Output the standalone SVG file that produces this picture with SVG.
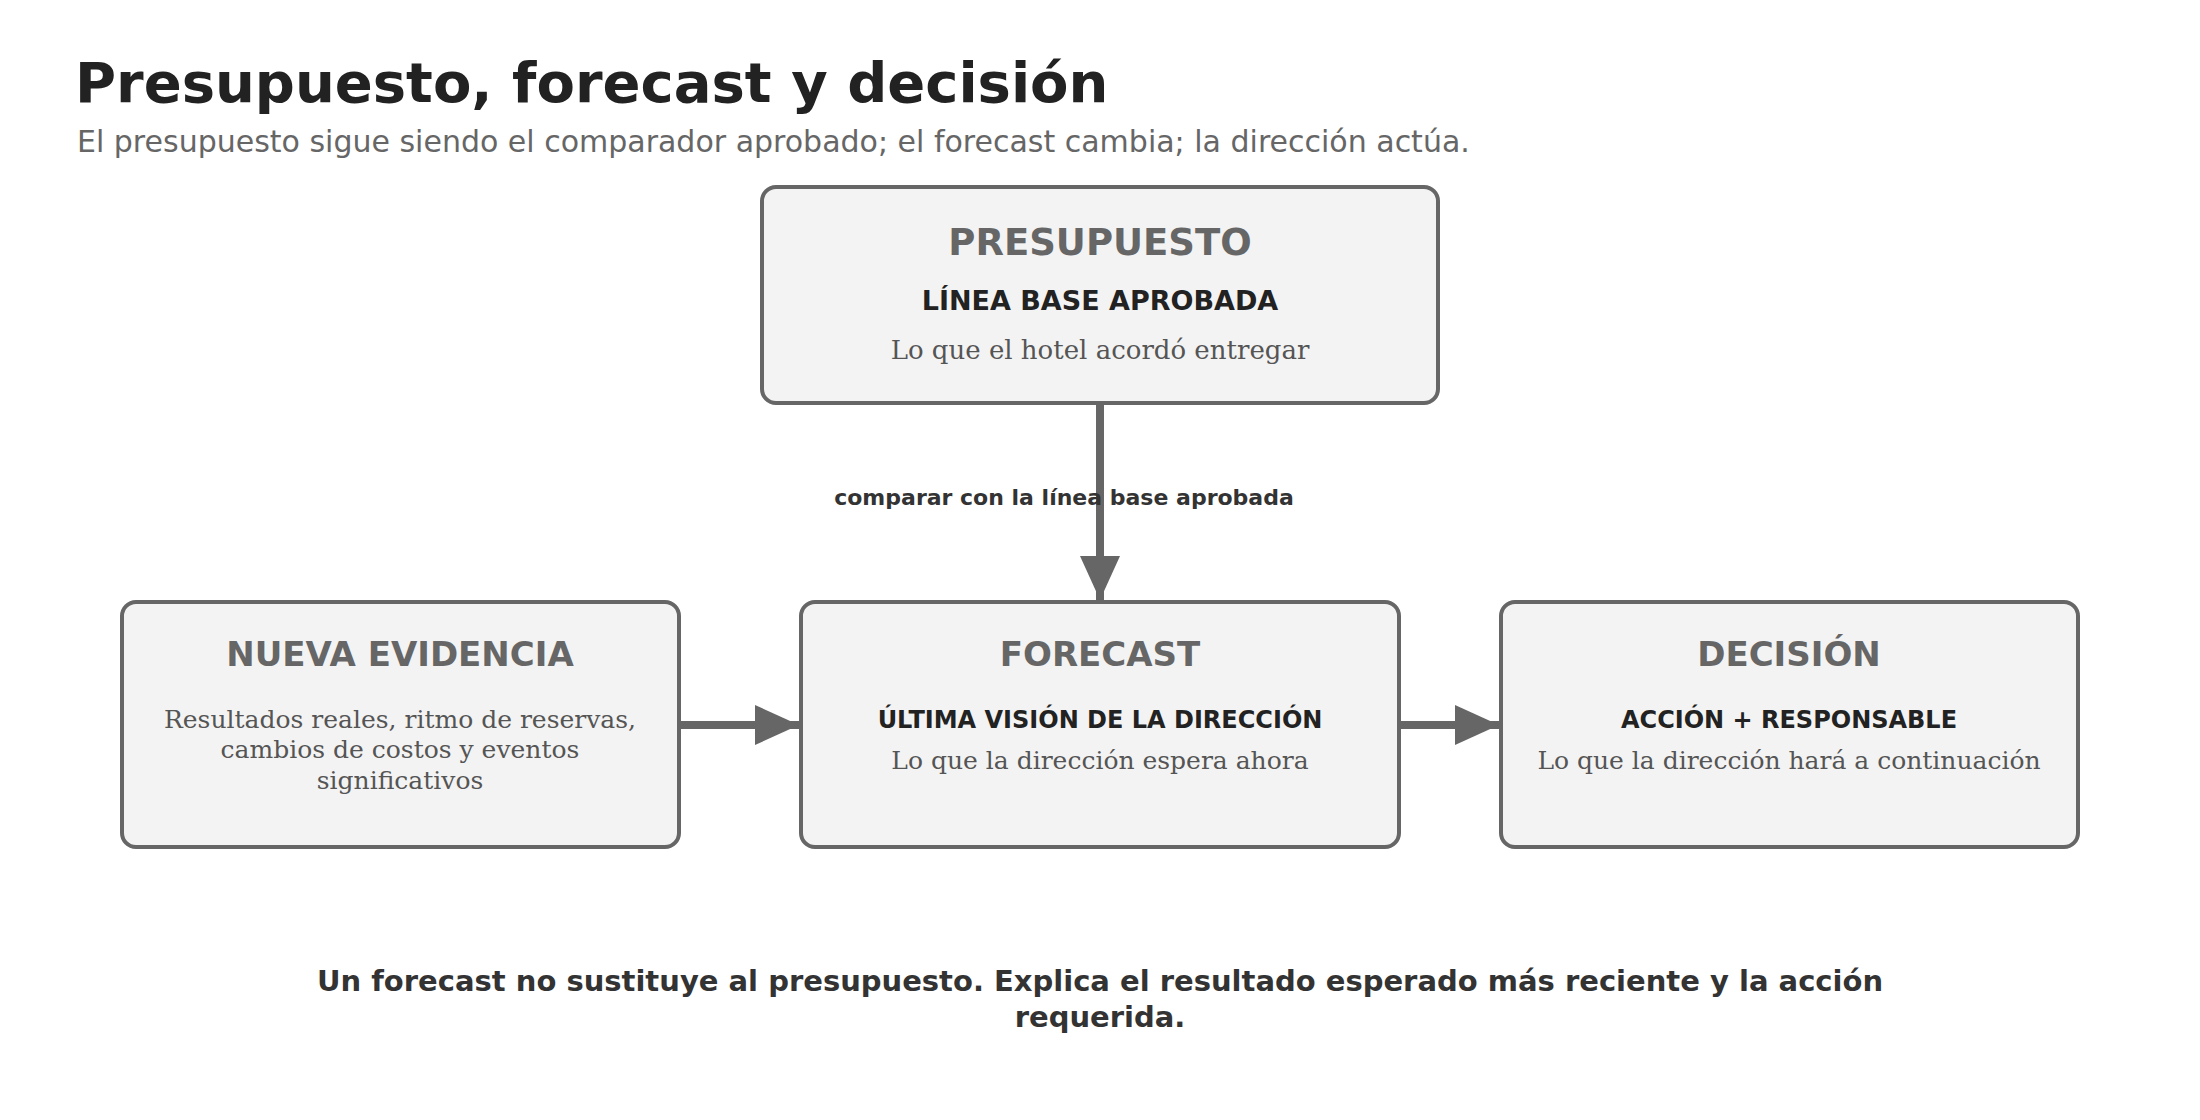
<svg xmlns="http://www.w3.org/2000/svg" width="2200" height="1120" viewBox="0 0 2200 1120">
<style>
.box{fill:#f3f3f3;stroke:#666;stroke-width:4}
.t{font-family:"DejaVu Sans",sans-serif;font-weight:bold;font-size:34px;fill:#666;text-anchor:middle}
.s{font-family:"DejaVu Sans",sans-serif;font-weight:bold;font-size:24px;fill:#222;text-anchor:middle}
.d{font-family:"DejaVu Serif",serif;font-size:25px;fill:#555;text-anchor:middle}
.c{stroke:#666;stroke-width:8;fill:none}
</style>
<defs><marker id="ah" markerUnits="userSpaceOnUse" markerWidth="46" markerHeight="44" refX="44" refY="20" orient="auto"><path d="M0,0 L44,20 L0,40 Z" fill="#666"/></marker></defs>
<rect width="2200" height="1120" fill="#fff"/>
<text x="75" y="102" font-family="DejaVu Sans,sans-serif" font-weight="bold" font-size="56" fill="#222">Presupuesto, forecast y decisión</text>
<text x="77" y="152" font-family="DejaVu Sans,sans-serif" font-size="30" fill="#666">El presupuesto sigue siendo el comparador aprobado; el forecast cambia; la dirección actúa.</text>
<g id="connectors">
<line class="c" x1="1100" y1="403" x2="1100" y2="600" marker-end="url(#ah)"/>
<line class="c" x1="679" y1="725" x2="799" y2="725" marker-end="url(#ah)"/>
<line class="c" x1="1399" y1="725" x2="1499" y2="725" marker-end="url(#ah)"/>
<text x="1064" y="505" font-family="DejaVu Sans,sans-serif" font-weight="bold" font-size="22" fill="#333" text-anchor="middle">comparar con la línea base aprobada</text>
</g>
<g id="presupuesto">
<rect class="box" x="762" y="187" width="676" height="216" rx="14"/>
<text class="t" x="1100" y="255" font-size="37" style="font-size:37px">PRESUPUESTO</text>
<text class="s" x="1100" y="310" style="font-size:27px">LÍNEA BASE APROBADA</text>
<text class="d" x="1100" y="359" style="font-size:26px">Lo que el hotel acordó entregar</text>
</g>
<g id="nueva">
<rect class="box" x="122" y="602" width="557" height="245" rx="14"/>
<text class="t" x="400" y="666">NUEVA EVIDENCIA</text>
<text class="d" x="400" y="728">Resultados reales, ritmo de reservas,</text>
<text class="d" x="400" y="758">cambios de costos y eventos</text>
<text class="d" x="400" y="789">significativos</text>
</g>
<g id="forecast">
<rect class="box" x="801" y="602" width="598" height="245" rx="14"/>
<text class="t" x="1100" y="666">FORECAST</text>
<text class="s" x="1100" y="728">ÚLTIMA VISIÓN DE LA DIRECCIÓN</text>
<text class="d" x="1100" y="769">Lo que la dirección espera ahora</text>
</g>
<g id="decision">
<rect class="box" x="1501" y="602" width="577" height="245" rx="14"/>
<text class="t" x="1789" y="666">DECISIÓN</text>
<text class="s" x="1789" y="728">ACCIÓN + RESPONSABLE</text>
<text class="d" x="1789" y="769">Lo que la dirección hará a continuación</text>
</g>
<g font-family="DejaVu Sans,sans-serif" font-weight="bold" font-size="29" fill="#333" text-anchor="middle">
<text x="1100" y="991">Un forecast no sustituye al presupuesto. Explica el resultado esperado más reciente y la acción</text>
<text x="1100" y="1027">requerida.</text>
</g>
</svg>
